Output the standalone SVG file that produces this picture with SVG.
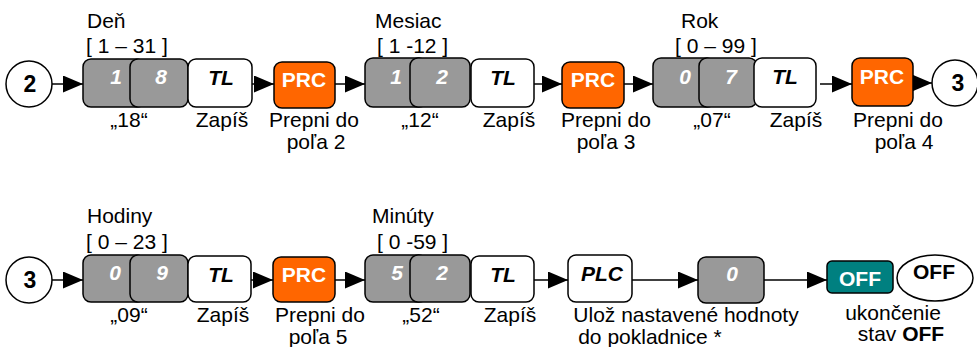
<svg xmlns="http://www.w3.org/2000/svg" width="977" height="347" viewBox="0 0 977 347">
<style>
text{font-family:"Liberation Sans",Arial,sans-serif;}
.lbl{font-size:21px;fill:#000;}
.c{text-anchor:middle;}
.box{stroke:#000;stroke-width:1.5;}
.gray{fill:#999999;}
.white{fill:#ffffff;}
.orange{fill:#FF6600;}
.teal{fill:#008080;}
.dig{font-size:21px;font-weight:bold;font-style:italic;fill:#fff;text-anchor:middle;}
.key{font-size:21px;font-weight:bold;font-style:italic;fill:#000;text-anchor:middle;}
.kw{font-size:21px;font-weight:bold;fill:#fff;text-anchor:middle;}
.num{font-size:23px;font-weight:bold;fill:#000;text-anchor:middle;}
.conn{stroke:#000;stroke-width:1.5;fill:none;marker-end:url(#ah);}
</style>
<defs>
<marker id="ah" markerUnits="userSpaceOnUse" markerWidth="20" markerHeight="17" refX="20" refY="8.5" orient="auto">
<path d="M0,0 L20,8.5 L0,17 Z" fill="#000"/>
</marker>
</defs>
<rect width="977" height="347" fill="#fff"/>

<g id="connectors">
<line class="conn" x1="52" y1="84" x2="83" y2="84"/>
<line class="conn" x1="252" y1="84" x2="274" y2="84"/>
<line class="conn" x1="335" y1="84" x2="365" y2="84"/>
<line class="conn" x1="534" y1="84" x2="562" y2="84"/>
<line class="conn" x1="624" y1="84" x2="653" y2="84"/>
<line class="conn" x1="820" y1="84" x2="852" y2="84"/>
<line class="conn" x1="913" y1="83" x2="932" y2="83"/>
<line class="conn" x1="52" y1="280" x2="83" y2="280"/>
<line class="conn" x1="251" y1="280" x2="273" y2="280"/>
<line class="conn" x1="335" y1="280" x2="365" y2="280"/>
<line class="conn" x1="534" y1="280" x2="568" y2="280"/>
<line class="conn" x1="632" y1="280" x2="698" y2="280"/>
<line class="conn" x1="764" y1="280" x2="827" y2="280"/>
</g>

<g id="start2">
<circle cx="29" cy="84" r="23" fill="#fff" class="box"/>
<text class="num" x="30" y="92">2</text>
</g>

<g id="den">
<text class="lbl" x="87" y="28">Deň</text>
<text class="lbl" x="86" y="53">[ 1 – 31 ]</text>
<rect class="box gray" x="83" y="59" width="62" height="48" rx="8"/>
<rect class="box gray" x="130" y="59" width="58" height="48" rx="8"/>
<text class="dig" x="116" y="84">1</text>
<text class="dig" x="161" y="84">8</text>
<text class="lbl c" x="129" y="127">„18“</text>
</g>
<g id="tl1">
<rect class="box white" x="188" y="59" width="64" height="48" rx="8"/>
<text class="key" x="221" y="85">TL</text>
<text class="lbl c" x="222" y="127">Zapíš</text>
</g>
<g id="prc1">
<rect class="box orange" x="274" y="62" width="61" height="46" rx="8"/>
<text class="kw" x="304" y="87">PRC</text>
<text class="lbl c" x="314" y="127">Prepni do</text>
<text class="lbl c" x="316" y="149">poľa 2</text>
</g>

<g id="mesiac">
<text class="lbl" x="375" y="28">Mesiac</text>
<text class="lbl" x="377" y="53">[ 1 -12 ]</text>
<rect class="box gray" x="365" y="58" width="62" height="49" rx="8"/>
<rect class="box gray" x="410" y="58" width="60" height="49" rx="8"/>
<text class="dig" x="396" y="84">1</text>
<text class="dig" x="442" y="84">2</text>
<text class="lbl c" x="420" y="127">„12“</text>
</g>
<g id="tl2">
<rect class="box white" x="471" y="59" width="63" height="48" rx="8"/>
<text class="key" x="503" y="85">TL</text>
<text class="lbl c" x="509" y="127">Zapíš</text>
</g>
<g id="prc2">
<rect class="box orange" x="562" y="62" width="62" height="46" rx="8"/>
<text class="kw" x="593" y="87">PRC</text>
<text class="lbl c" x="606" y="127">Prepni do</text>
<text class="lbl c" x="606" y="149">poľa 3</text>
</g>

<g id="rok">
<text class="lbl" x="681" y="28">Rok</text>
<text class="lbl" x="675" y="53">[ 0 – 99 ]</text>
<rect class="box gray" x="653" y="58" width="62" height="49" rx="8"/>
<rect class="box gray" x="699" y="58" width="58" height="49" rx="8"/>
<text class="dig" x="685" y="84">0</text>
<text class="dig" x="731" y="84">7</text>
<text class="lbl c" x="712" y="127">„07“</text>
</g>
<g id="tl3">
<rect class="box white" x="754" y="58" width="62" height="49" rx="8"/>
<text class="key" x="785" y="84">TL</text>
<text class="lbl c" x="796" y="127">Zapíš</text>
</g>
<g id="prc3">
<rect class="box orange" x="852" y="58" width="61" height="48" rx="8"/>
<text class="kw" x="882" y="84">PRC</text>
<text class="lbl c" x="898" y="127">Prepni do</text>
<text class="lbl c" x="904" y="149">poľa 4</text>
</g>
<g id="end3">
<circle cx="955" cy="83" r="23" fill="#fff" class="box"/>
<text class="num" x="958" y="91">3</text>
</g>

<g id="start3">
<circle cx="29" cy="280" r="23" fill="#fff" class="box"/>
<text class="num" x="30" y="288">3</text>
</g>
<g id="hodiny">
<text class="lbl" x="87" y="223">Hodiny</text>
<text class="lbl" x="86" y="249">[ 0 – 23 ]</text>
<rect class="box gray" x="83" y="255" width="62" height="47" rx="8"/>
<rect class="box gray" x="130" y="255" width="58" height="47" rx="8"/>
<text class="dig" x="115" y="280">0</text>
<text class="dig" x="162" y="280">9</text>
<text class="lbl c" x="129" y="322">„09“</text>
</g>
<g id="tl4">
<rect class="box white" x="188" y="256" width="63" height="46" rx="8"/>
<text class="key" x="221" y="282">TL</text>
<text class="lbl c" x="223" y="322">Zapíš</text>
</g>
<g id="prc4">
<rect class="box orange" x="273" y="257" width="62" height="45" rx="8"/>
<text class="kw" x="304" y="282">PRC</text>
<text class="lbl c" x="320" y="322">Prepni do</text>
<text class="lbl c" x="318" y="344">poľa 5</text>
</g>
<g id="minuty">
<text class="lbl" x="372" y="223">Minúty</text>
<text class="lbl" x="377" y="249">[ 0 -59 ]</text>
<rect class="box gray" x="365" y="255" width="62" height="47" rx="8"/>
<rect class="box gray" x="410" y="255" width="60" height="47" rx="8"/>
<text class="dig" x="397" y="280">5</text>
<text class="dig" x="442" y="280">2</text>
<text class="lbl c" x="421" y="322">„52“</text>
</g>
<g id="tl5">
<rect class="box white" x="471" y="256" width="63" height="46" rx="8"/>
<text class="key" x="503" y="282">TL</text>
<text class="lbl c" x="510" y="322">Zapíš</text>
</g>
<g id="plc">
<rect class="box white" x="568" y="255" width="64" height="47" rx="8"/>
<text class="key" x="602" y="281">PLC</text>
<text class="lbl c" x="686" y="322">Ulož nastavené hodnoty</text>
<text class="lbl c" x="650" y="344">do pokladnice *</text>
</g>
<g id="zero">
<rect class="box gray" x="698" y="257" width="66" height="46" rx="8"/>
<text class="dig" x="732" y="281">0</text>
</g>
<g id="off">
<rect class="box teal" x="827" y="261" width="66" height="32" rx="5"/>
<text class="kw" x="860" y="286">OFF</text>
<text class="lbl c" x="893" y="320">ukončenie</text>
<text class="lbl c" x="901" y="341">stav <tspan font-weight="bold">OFF</tspan></text>
</g>
<g id="offstate">
<ellipse cx="935" cy="278" rx="38" ry="23" fill="#fff" class="box"/>
<text class="num" x="934" y="279" style="font-size:21px">OFF</text>
</g>
</svg>
